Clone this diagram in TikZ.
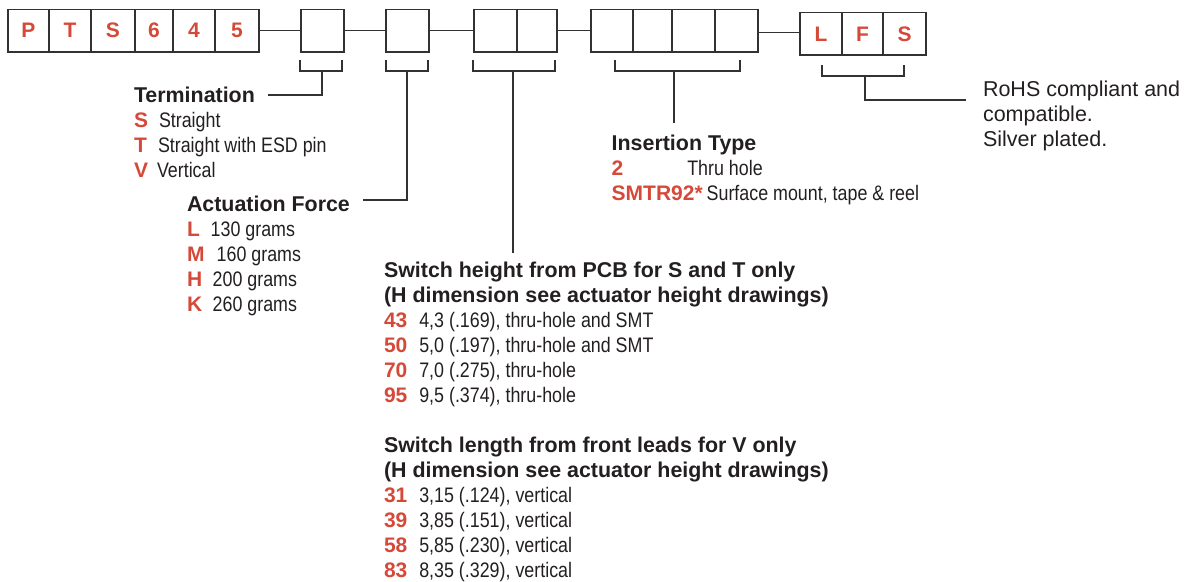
\documentclass[tikz,border=0pt]{standalone}
\usepackage{fontspec}
\setmainfont{Liberation Sans}
\newfontfamily\mycondfont[FakeStretch=0.85]{Liberation Sans}
\definecolor{codered}{RGB}{213,73,57}
\definecolor{ink}{RGB}{35,31,32}
\definecolor{wire}{RGB}{50,50,50}
\newcommand\mycellfont{\fontsize{21}{21}\selectfont\bfseries}
\newcommand\myheadfont{\fontsize{21.4}{25}\selectfont\bfseries}
\newcommand\mycodefont{\fontsize{21}{25}\selectfont\bfseries}
\newcommand\mybodyfont{\mycondfont\fontsize{21}{25}\selectfont}
\newcommand\myrohsfont{\fontsize{21.5}{25}\selectfont}
\begin{document}
\begin{tikzpicture}[x=1pt,y=-1pt,
  cell/.style={draw=wire,line width=1.6pt,minimum height=42.4pt,inner sep=0,outer sep=0,text=codered,font=\mycellfont},
  wireline/.style={draw=wire,line width=1.5pt},
  lbl/.style={anchor=base west,inner sep=0,outer sep=0,text=ink},
  head/.style={lbl,font=\myheadfont},
  code/.style={lbl,text=codered,font=\mycodefont},
  body/.style={lbl,font=\mybodyfont},
  rohs/.style={lbl,font=\myrohsfont}]
\useasboundingbox (0,0) rectangle (1186,581);
% top row
\node[cell,minimum width=41pt] (p1) at (28.5,30.5) {P};
\node[cell,minimum width=42pt] (p2) at (70,30.5) {T};
\node[cell,minimum width=44pt] (p3) at (113,30.5) {S};
\node[cell,minimum width=38pt] (p4) at (154,30.5) {6};
\node[cell,minimum width=42pt] (p5) at (194,30.5) {4};
\node[cell,minimum width=44pt] (p6) at (237,30.5) {5};
\node[cell,minimum width=43pt] (t) at (322.5,30.5) {};
\node[cell,minimum width=43pt] (a) at (407.5,30.5) {};
\node[cell,minimum width=43pt] (h1) at (495.5,30.5) {};
\node[cell,minimum width=40pt] (h2) at (537,30.5) {};
\node[cell,minimum width=42pt] (i1) at (612,30.5) {};
\node[cell,minimum width=39pt] (i2) at (652.5,30.5) {};
\node[cell,minimum width=43pt] (i3) at (693.5,30.5) {};
\node[cell,minimum width=43pt] (i4) at (736.5,30.5) {};
\node[cell,minimum width=42pt] (l1) at (821,33.8) {L};
\node[cell,minimum width=41pt] (l2) at (862.5,33.8) {F};
\node[cell,minimum width=43pt] (l3) at (904.5,33.8) {S};
\draw[wireline] (p6.east) -- (t.west);
\draw[wireline] (t.east) -- (a.west);
\draw[wireline] (a.east) -- (h1.west);
\draw[wireline] (h2.east) -- (i1.west);
\draw[wireline] ([yshift=-1.8pt]i4.east) -- ([yshift=1.5pt]l1.west);
% termination
\node[head] (termh) at (134,102.3) {Termination};
\node[code] (tc1) at (134,127.8) {S};
\node[body] (tt1) at (159,127.8) {Straight};
\node[code] (tc2) at (134,152.6) {T};
\node[body] (tt2) at (158,152.6) {Straight with ESD pin};
\node[code] (tc3) at (134,177.3) {V};
\node[body] (tt3) at (157,177.3) {Vertical};
% actuation
\node[head] (acth) at (187,211.7) {Actuation Force};
\node[code] (ac1) at (187,236.7) {L};
\node[body] (at1) at (210.7,236.7) {130 grams};
\node[code] (ac2) at (187,261.7) {M};
\node[body] (at2) at (216.7,261.7) {160 grams};
\node[code] (ac3) at (187,286.7) {H};
\node[body] (at3) at (212.7,286.7) {200 grams};
\node[code] (ac4) at (187,311.7) {K};
\node[body] (at4) at (212.7,311.7) {260 grams};
% switch height
\node[head] (sh1) at (384,277.5) {Switch height from PCB for S and T only};
\node[head] (sh2) at (384,302.5) {(H dimension see actuator height drawings)};
\node[code] (hc1) at (384,327.5) {43};
\node[body] (ht1) at (419.3,327.5) {4,3 (.169), thru-hole and SMT};
\node[code] (hc2) at (384,352.5) {50};
\node[body] (ht2) at (419.3,352.5) {5,0 (.197), thru-hole and SMT};
\node[code] (hc3) at (384,377.5) {70};
\node[body] (ht3) at (419.3,377.5) {7,0 (.275), thru-hole};
\node[code] (hc4) at (384,402.5) {95};
\node[body] (ht4) at (419.3,402.5) {9,5 (.374), thru-hole};
% switch length
\node[head] (sl1) at (384,452.5) {Switch length from front leads for V only};
\node[head] (sl2) at (384,477.5) {(H dimension see actuator height drawings)};
\node[code] (lc1) at (384,502.5) {31};
\node[body] (lt1) at (419.3,502.5) {3,15 (.124), vertical};
\node[code] (lc2) at (384,527.5) {39};
\node[body] (lt2) at (419.3,527.5) {3,85 (.151), vertical};
\node[code] (lc3) at (384,552.5) {58};
\node[body] (lt3) at (419.3,552.5) {5,85 (.230), vertical};
\node[code] (lc4) at (384,577.5) {83};
\node[body] (lt4) at (419.3,577.5) {8,35 (.329), vertical};
% insertion
\node[head] (insh) at (611.7,150.6) {Insertion Type};
\node[code] (ic1) at (611.7,175.3) {2};
\node[body] (it1) at (687.3,175.3) {Thru hole};
\node[code] (ic2) at (611.7,200) {SMTR92*};
\node[body] (it2) at (706.7,200) {Surface mount, tape \& reel};
% rohs
\node[rohs] (r1) at (983,96.7) {RoHS compliant and};
\node[rohs] (r2) at (983,121.7) {compatible.};
\node[rohs] (r3) at (983,146.7) {Silver plated.};
% brackets
\coordinate (termend) at (268,95);
\coordinate (actend) at (363,200);
\coordinate (hend) at (513,252.5);
\coordinate (insend) at (674,122.5);
\coordinate (lfsend) at (966,100);
\draw[wireline] (300,60) |- (342,71) -- (342,60);
\draw[wireline] (322,71) |- (termend);
\draw[wireline] (386,60) |- (428,71) -- (428,60);
\draw[wireline] (407,71) |- (actend);
\draw[wireline] (473,60) |- (555,71) -- (555,60);
\draw[wireline] (513,71) -- (hend);
\draw[wireline] (615,60) |- (740,71) -- (740,60);
\draw[wireline] (674,71) -- (insend);
\draw[wireline] (822,65) |- (904,76) -- (904,65);
\draw[wireline] (865,76) |- (lfsend);
\end{tikzpicture}
\end{document}
